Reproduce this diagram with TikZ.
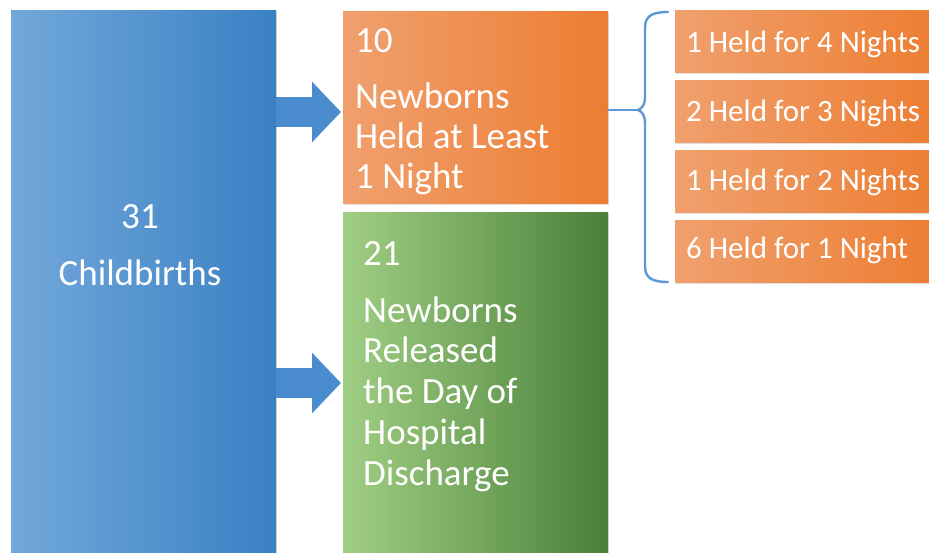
\documentclass[tikz,border=0pt]{standalone}
\usepackage{fontspec}
\setmainfont{Carlito}
\usetikzlibrary{shadows,arrows.meta,calc}
\definecolor{blueL}{RGB}{114,168,218}
\definecolor{blueR}{RGB}{58,129,196}
\definecolor{orgL}{RGB}{240,160,110}
\definecolor{orgM}{RGB}{244,180,138}
\definecolor{orgR}{RGB}{237,125,49}
\definecolor{grnL}{RGB}{160,206,132}
\definecolor{grnM}{RGB}{112,176,72}
\definecolor{grnR}{RGB}{74,128,56}
\definecolor{arrowblue}{RGB}{74,140,205}
\definecolor{braceblue}{RGB}{92,152,214}
\begin{document}
\begin{tikzpicture}[x=1pt,y=-1pt,
  box/.style={anchor=north west,inner sep=0pt,outer sep=0pt,
    drop shadow={shadow xshift=1pt,shadow yshift=-2pt,opacity=0.25}},
  bluebox/.style={box,left color=blueL,right color=blueR},
  orgbox/.style={box,left color=orgL,middle color=orgM,right color=orgR},
  grnbox/.style={box,left color=grnL,middle color=grnM,right color=grnR},
  bigtxt/.style={text=white,inner sep=0pt,font=\fontsize{37}{40}\selectfont},
  smalltxt/.style={text=white,inner sep=0pt,anchor=base west,font=\fontsize{31}{36}\selectfont},
  bigarrow/.style={draw=arrowblue,line width=30pt,-{Triangle[length=29pt,width=59pt]}},
  bracestyle/.style={draw=braceblue,line width=2.4pt,line cap=round,line join=round}]
\useasboundingbox (0,0) rectangle (929,552);
\clip (0,0) rectangle (929,552);

% main boxes
\node[bluebox,minimum width=265pt,minimum height=560pt] (blue) at (11,10) {};
\node[orgbox,minimum width=265pt,minimum height=192pt] (orange) at (343,11) {};
\node[grnbox,minimum width=265pt,minimum height=360pt] (green) at (343,212) {};

% detail boxes
\node[orgbox,minimum width=265pt,minimum height=62pt] (d1) at (675,10) {};
\node[orgbox,minimum width=265pt,minimum height=62pt] (d2) at (675,80) {};
\node[orgbox,minimum width=265pt,minimum height=62pt] (d3) at (675,150) {};
\node[orgbox,minimum width=265pt,minimum height=62pt] (d4) at (675,220) {};

% texts
\node[bigtxt,anchor=base] (t31) at (140,228) {31};
\node[bigtxt,anchor=base] (tchild) at (140,285) {Childbirths};
\node[bigtxt,anchor=base west] (t10) at (355,52) {10};
\node[bigtxt,anchor=base west] (theld) at (355,108)
  {\begin{tabular}[t]{@{}l@{}}Newborns\\Held at Least\\1 Night\end{tabular}};
\node[bigtxt,anchor=base west] (t21) at (363,265) {21};
\node[bigtxt,anchor=base west,font=\fontsize{37}{40.8}\selectfont] (trel) at (363,322)
  {\begin{tabular}[t]{@{}l@{}}Newborns\\Released\\the Day of\\Hospital\\Discharge\end{tabular}};
\node[smalltxt] (s1) at (686,52) {1 Held for 4 Nights};
\node[smalltxt] (s2) at (686,121) {2 Held for 3 Nights};
\node[smalltxt] (s3) at (686,190) {1 Held for 2 Nights};
\node[smalltxt] (s4) at (686,258) {6 Held for 1 Night};

% block arrows
\coordinate (a1e) at ($(orange.west)+(-2,5)$);
\coordinate (a2e) at ($(green.west)+(-2,-9)$);
\draw[bigarrow] (blue.east |- a1e) -- (a1e);
\draw[bigarrow] (blue.east |- a2e) -- (a2e);

% brace
\coordinate (btip) at (638,110);
\coordinate (btop) at (668,12);
\coordinate (bbot) at (668,282);
\draw[bracestyle] (orange.east |- btip) -- (btip);
\draw[bracestyle] (btop) .. controls (652,12) and (645,16) .. (645,28) -- (645,96)
  .. controls (645,104) and (643,108) .. (btip)
  .. controls (643,112) and (645,116) .. (645,124) -- (645,266)
  .. controls (645,278) and (652,282) .. (bbot);
\end{tikzpicture}
\end{document}
